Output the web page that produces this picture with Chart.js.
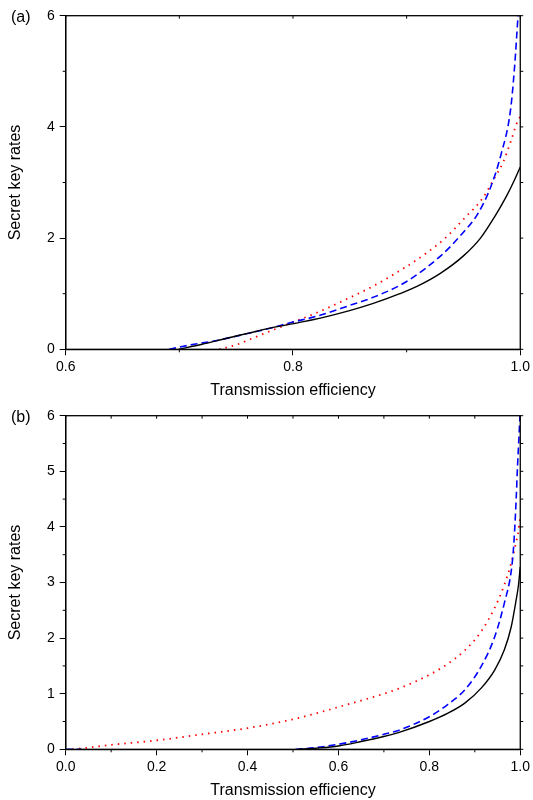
<!DOCTYPE html>
<html>
<head>
<meta charset="utf-8">
<script src="https://cdn.jsdelivr.net/npm/chart.js@4.4.1/dist/chart.umd.min.js"></script>
<style>
  body { margin: 0; background: #fff; }
  .panel { width: 533px; height: 400px; position: relative; }
</style>
</head>
<body>
<div class="panel"><canvas id="chartA" width="533" height="400"></canvas></div>
<div class="panel"><canvas id="chartB" width="533" height="400"></canvas></div>
<script>
// panel (a): transmission efficiency 0.6 - 1.0
const aBlackEta = [0.6994, 0.72, 0.74, 0.761, 0.78, 0.805, 0.825, 0.849, 0.87, 0.894, 0.91, 0.93, 0.95, 0.965, 0.977, 0.988, 0.995, 1.0];
const aBlackKey = [0, 0.09, 0.19, 0.29, 0.38, 0.48, 0.565, 0.69, 0.82, 1.0, 1.14, 1.37, 1.68, 2.0, 2.37, 2.76, 3.05, 3.28];
const aBlueEta = [0.691, 0.71, 0.732, 0.755, 0.776, 0.8, 0.82, 0.85, 0.87, 0.9, 0.931, 0.948, 0.963, 0.974, 0.983, 0.9914, 0.995, 0.998, 1.0];
const aBlueKey = [0, 0.08, 0.155, 0.26, 0.36, 0.49, 0.59, 0.79, 0.93, 1.22, 1.7, 2.06, 2.45, 2.92, 3.5, 4.3, 5.08, 5.98, 6.5];
const aRedEta = [0.735, 0.75, 0.761, 0.79, 0.82, 0.849, 0.87, 0.9, 0.916, 0.934, 0.951, 0.967, 0.977, 0.985, 0.992, 0.998, 1.0];
const aRedKey = [0, 0.08, 0.17, 0.41, 0.65, 0.92, 1.13, 1.49, 1.71, 2.0, 2.36, 2.72, 3.07, 3.37, 3.76, 4.12, 4.18];

// panel (b): transmission efficiency 0.0 - 1.0
const bBlackEta = [0.513, 0.55, 0.6, 0.65, 0.7, 0.732, 0.8, 0.841, 0.878, 0.914, 0.944, 0.965, 0.98, 0.991, 0.996, 1.0];
const bBlackKey = [0, 0.02, 0.06, 0.14, 0.23, 0.30, 0.50, 0.65, 0.83, 1.10, 1.43, 1.79, 2.2, 2.69, 2.95, 3.28];
const bBlueStubEta = [0, 0.035];
const bBlueStubKey = [0, 0];
const bBlueEta = [0.506, 0.55, 0.6, 0.65, 0.7, 0.732, 0.805, 0.841, 0.878, 0.914, 0.944, 0.965, 0.98, 0.985, 0.988, 0.991, 0.994, 0.997, 1.0];
const bBlueKey = [0, 0.03, 0.09, 0.17, 0.27, 0.34, 0.61, 0.81, 1.07, 1.49, 2.03, 2.63, 3.2, 3.6, 4.0, 4.5, 5.1, 5.6, 6.1];
const bRedEta = [0.015, 0.05, 0.1, 0.2, 0.3, 0.4, 0.5, 0.6, 0.7, 0.732, 0.8, 0.841, 0.878, 0.914, 0.944, 0.965, 0.98, 0.991, 0.995, 0.999, 1.0];
const bRedKey = [0, 0.03, 0.08, 0.16, 0.27, 0.38, 0.54, 0.76, 1.0, 1.09, 1.34, 1.54, 1.78, 2.12, 2.55, 2.96, 3.35, 3.73, 3.88, 4.12, 4.16];

// tick marks
const aMinorX = [0.7, 0.9];
const aMinorY = [1, 3, 5];
const bMinorX = [0.1, 0.3, 0.5, 0.7, 0.9];
const bMinorY = [0.5, 1.5, 2.5, 3.5, 4.5, 5.5];

const FONT = '"Liberation Sans", Arial, sans-serif';

function pts(xs, ys) {
  return xs.map((v, i) => ({ x: v, y: ys[i] }));
}

function black(xs, ys) {
  return { data: pts(xs, ys), borderColor: '#000', borderWidth: 1.4, pointRadius: 0, cubicInterpolationMode: 'monotone' };
}
function blue(xs, ys) {
  return { data: pts(xs, ys), borderColor: '#0000ff', borderWidth: 1.6, borderDash: [7, 4], pointRadius: 0, cubicInterpolationMode: 'monotone' };
}
function red(xs, ys) {
  return { data: pts(xs, ys), borderColor: '#ff0000', borderWidth: 1.8, borderDash: [1.5, 5], pointRadius: 0, cubicInterpolationMode: 'monotone' };
}

// box, minor ticks and mirror ticks on top/right, panel letter
const framePlugin = {
  id: 'frame',
  afterDraw(chart, args, opts) {
    const { ctx, chartArea: a, scales: { x, y } } = chart;
    const seg = (x1, y1, x2, y2) => { ctx.beginPath(); ctx.moveTo(x1, y1); ctx.lineTo(x2, y2); ctx.stroke(); };
    ctx.save();
    ctx.strokeStyle = '#000';
    ctx.lineWidth = 1.3;
    ctx.strokeRect(a.left, a.top, a.right - a.left, a.bottom - a.top);
    ctx.lineWidth = 1;
    opts.minorX.forEach(v => {
      const px = x.getPixelForValue(v);
      seg(px, a.bottom, px, a.bottom + 3);
      seg(px, a.top, px, a.top + 3);
    });
    x.ticks.forEach(t => {
      const px = x.getPixelForValue(t.value);
      seg(px, a.top, px, a.top + 3);
    });
    opts.minorY.forEach(v => {
      const py = y.getPixelForValue(v);
      seg(a.left - 3, py, a.left, py);
      seg(a.right, py, a.right + 3, py);
    });
    y.ticks.forEach(t => {
      const py = y.getPixelForValue(t.value);
      seg(a.right, py, a.right + 3, py);
    });
    ctx.fillStyle = '#000';
    ctx.font = '16px ' + FONT;
    ctx.textBaseline = 'middle';
    ctx.fillText(opts.label, 11, 18);
    ctx.restore();
  }
};

function makeChart(id, datasets, xr, yr, label, minorX, minorY) {
  new Chart(document.getElementById(id), {
    type: 'line',
    data: { datasets: datasets },
    options: {
      responsive: false,
      animation: false,
      layout: { padding: { left: 0, right: 10.5, top: 15.7, bottom: 0 } },
      plugins: {
        legend: { display: false },
        tooltip: { enabled: false },
        frame: { label: label, minorX: minorX, minorY: minorY }
      },
      scales: {
        x: {
          type: 'linear',
          min: xr[0], max: xr[1],
          grid: { drawOnChartArea: false, color: '#000', tickLength: 6, lineWidth: 1 },
          border: { color: '#000', width: 1.3 },
          ticks: { stepSize: 0.2, padding: 3, color: '#000', font: { family: FONT, size: 14 }, maxRotation: 0,
                   callback: v => v.toFixed(1) },
          title: { display: true, text: 'Transmission efficiency', color: '#000', font: { family: FONT, size: 16 }, padding: { top: 4, bottom: 0 } },
          afterFit: s => { s.height = 50.7; }
        },
        y: {
          min: yr[0], max: yr[1],
          grid: { drawOnChartArea: false, color: '#000', tickLength: 6, lineWidth: 1 },
          border: { color: '#000', width: 1.3 },
          ticks: { stepSize: yr[2], padding: 5, color: '#000', font: { family: FONT, size: 14 },
                   callback: v => String(v) },
          title: { display: true, text: 'Secret key rates', color: '#000', font: { family: FONT, size: 16 }, padding: { top: 6, bottom: 0 } },
          afterFit: s => { s.width = 65.7; }
        }
      }
    },
    plugins: [framePlugin]
  });
}

makeChart('chartA',
  [black(aBlackEta, aBlackKey), blue(aBlueEta, aBlueKey), red(aRedEta, aRedKey)],
  [0.6, 1.0], [0, 6, 2], '(a)', aMinorX, aMinorY);

makeChart('chartB',
  [black(bBlackEta, bBlackKey), blue(bBlueStubEta, bBlueStubKey), blue(bBlueEta, bBlueKey), red(bRedEta, bRedKey)],
  [0.0, 1.0], [0, 6, 1], '(b)', bMinorX, bMinorY);
</script>
</body>
</html>
